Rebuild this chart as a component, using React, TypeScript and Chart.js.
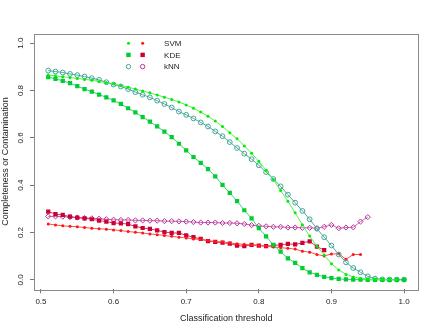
import { useEffect, useRef } from "react";
import { Chart, registerables } from "chart.js";

Chart.register(...registerables);

const thresholds = [
  0.51, 0.52, 0.53, 0.54, 0.55, 0.56, 0.57, 0.58, 0.59, 0.6,
  0.61, 0.62, 0.63, 0.64, 0.65, 0.66, 0.67, 0.68, 0.69, 0.7,
  0.71, 0.72, 0.73, 0.74, 0.75, 0.76, 0.77, 0.78, 0.79, 0.8,
  0.81, 0.82, 0.83, 0.84, 0.85, 0.86, 0.87, 0.88, 0.89, 0.9,
  0.91, 0.92, 0.93, 0.94, 0.95, 0.96, 0.97, 0.98, 0.99, 1.0,
];

const svmCompleteness = [
  0.865, 0.862, 0.858, 0.855, 0.851, 0.847, 0.843, 0.838, 0.833, 0.827,
  0.821, 0.814, 0.806, 0.798, 0.79, 0.781, 0.772, 0.762, 0.751, 0.739,
  0.725, 0.709, 0.691, 0.671, 0.648, 0.622, 0.596, 0.566, 0.535, 0.501,
  0.463, 0.424, 0.377, 0.332, 0.283, 0.233, 0.185, 0.142, 0.105, 0.068,
  0.042, 0.023, 0.012, 0.006, 0.003, 0.002, 0.001, 0.001, 0.0,
];

const kdeCompleteness = [
  0.857, 0.849, 0.841, 0.831, 0.818, 0.806, 0.795, 0.783, 0.771, 0.758,
  0.743, 0.725, 0.708, 0.688, 0.668, 0.648, 0.626, 0.603, 0.575, 0.547,
  0.519, 0.494, 0.468, 0.437, 0.401, 0.367, 0.333, 0.294, 0.26, 0.218,
  0.184, 0.148, 0.119, 0.091, 0.072, 0.049, 0.032, 0.021, 0.013, 0.007,
  0.004, 0.002, 0.001, 0.001, 0.0, 0.0, 0.0, 0.0, 0.0, 0.0,
];

const knnCompleteness = [
  0.884, 0.88, 0.876, 0.87, 0.865, 0.859, 0.852, 0.845, 0.835, 0.825,
  0.817, 0.806, 0.793, 0.782, 0.771, 0.757, 0.743, 0.728, 0.711, 0.697,
  0.682, 0.665, 0.648, 0.627, 0.607, 0.582, 0.557, 0.533, 0.51, 0.484,
  0.455, 0.426, 0.395, 0.36, 0.326, 0.291, 0.256, 0.216, 0.18, 0.145,
  0.107, 0.074, 0.05, 0.032, 0.015, 0.005, 0.002, 0.001, 0.001, 0.001,
];

const svmContamination = [
  0.236, 0.232, 0.228, 0.226, 0.224, 0.221, 0.218, 0.216, 0.214, 0.211,
  0.208, 0.204, 0.201, 0.198, 0.194, 0.191, 0.187, 0.184, 0.18, 0.177,
  0.173, 0.17, 0.166, 0.162, 0.16, 0.156, 0.152, 0.15, 0.148, 0.145,
  0.142, 0.139, 0.136, 0.133, 0.13, 0.121, 0.117, 0.107, 0.101, 0.109,
  0.11, 0.087, 0.107, 0.107,
];

const kdeContamination = [
  0.288, 0.278, 0.274, 0.267, 0.263, 0.26, 0.256, 0.25, 0.246, 0.24,
  0.239, 0.235, 0.226, 0.219, 0.215, 0.209, 0.202, 0.198, 0.198, 0.188,
  0.18, 0.173, 0.164, 0.16, 0.157, 0.153, 0.145, 0.142, 0.148, 0.145,
  0.142, 0.145, 0.148, 0.152, 0.15, 0.156, 0.163, 0.14, 0.126,
];

const knnContamination = [
  0.268, 0.268, 0.267, 0.265, 0.263, 0.261, 0.26, 0.258, 0.256, 0.254,
  0.253, 0.253, 0.251, 0.251, 0.25, 0.25, 0.248, 0.248, 0.247, 0.246,
  0.244, 0.242, 0.242, 0.242, 0.24, 0.24, 0.239, 0.236, 0.231, 0.228,
  0.226, 0.224, 0.224, 0.221, 0.221, 0.22, 0.22, 0.218, 0.224, 0.232,
  0.218, 0.221, 0.222, 0.246, 0.265,
];

const methodLabels = ["SVM", "KDE", "kNN"];
const xTickValues = [0.5, 0.6, 0.7, 0.8, 0.9, 1.0];
const yTickValues = [0.0, 0.2, 0.4, 0.6, 0.8, 1.0];
const xTitle = "Classification threshold";
const yTitle = "Completeness or Contamination";

const FONT_FAMILY = "'Liberation Sans', Arial, Helvetica, sans-serif";
const TEXT_COLOR = "#222";

const COLORS = {
  svmC: { point: "#00ee00", line: "#55f055" },
  kdeC: { point: "#00cc33", line: "#33d866" },
  knnC: { point: "#3fa898", line: "#55a89a" },
  svmX: { point: "#ff1515", line: "#ff5050" },
  kdeX: { point: "#cc0033", line: "#d8335f" },
  knnX: { point: "#bb3399", line: "#c866b4" },
};

function toPoints(values: number[]) {
  return values.map((v, i) => ({ x: thresholds[i], y: v }));
}

function drawSymbol(ctx: CanvasRenderingContext2D, kind: string, x: number, y: number, color: string) {
  ctx.save();
  if (kind === "dot") {
    ctx.fillStyle = color;
    ctx.beginPath();
    ctx.arc(x, y, 1.5, 0, Math.PI * 2);
    ctx.fill();
  } else if (kind === "square") {
    ctx.fillStyle = color;
    ctx.fillRect(x - 2.2, y - 2.2, 4.4, 4.4);
  } else {
    ctx.strokeStyle = color;
    ctx.lineWidth = 1;
    ctx.beginPath();
    ctx.arc(x, y, 2.2, 0, Math.PI * 2);
    ctx.stroke();
  }
  ctx.restore();
}

const rStylePlugin = {
  id: "rStyle",
  afterDraw(chart: any) {
    const { ctx, chartArea: a, scales } = chart;
    ctx.save();
    ctx.strokeStyle = "#8a8a8a";
    ctx.lineWidth = 1;
    ctx.strokeRect(Math.round(a.left) + 0.5, Math.round(a.top) + 0.5, Math.round(a.right - a.left), Math.round(a.bottom - a.top));

    const xs = scales.x;
    const ys = scales.y;
    const colA = xs.getPixelForValue(0.6205);
    const colB = xs.getPixelForValue(0.640);
    const textX = xs.getPixelForValue(0.6695);
    const kinds = ["dot", "square", "circle"];
    const leftColors = [COLORS.svmC.point, COLORS.kdeC.point, COLORS.knnC.point];
    const rightColors = [COLORS.svmX.point, COLORS.kdeX.point, COLORS.knnX.point];
    ctx.font = `8px ${FONT_FAMILY}`;
    ctx.textBaseline = "middle";
    ctx.textAlign = "left";
    methodLabels.forEach((label, i) => {
      const y = ys.getPixelForValue(1.0 - i * 0.0495);
      drawSymbol(ctx, kinds[i], colA, y, leftColors[i]);
      drawSymbol(ctx, kinds[i], colB, y, rightColors[i]);
      ctx.fillStyle = TEXT_COLOR;
      ctx.fillText(label, textX, y + 0.5);
    });
    ctx.restore();
  },
};

export default function App() {
  const canvasRef = useRef<HTMLCanvasElement | null>(null);

  useEffect(() => {
    if (!canvasRef.current) return;
    const tickFont = { family: FONT_FAMILY, size: 8 };
    const titleFont = { family: FONT_FAMILY, size: 9 };
    const chart = new Chart(canvasRef.current, {
      type: "line",
      data: {
        datasets: [
          {
            label: "SVM completeness",
            data: toPoints(svmCompleteness),
            borderColor: COLORS.svmC.line,
            borderWidth: 1,
            pointStyle: "circle",
            pointRadius: 1.5,
            pointBackgroundColor: COLORS.svmC.point,
            pointBorderColor: COLORS.svmC.point,
            pointBorderWidth: 0,
          },
          {
            label: "KDE completeness",
            data: toPoints(kdeCompleteness),
            borderColor: COLORS.kdeC.line,
            borderWidth: 1,
            pointStyle: "rect",
            pointRadius: 3.0,
            pointBackgroundColor: COLORS.kdeC.point,
            pointBorderColor: COLORS.kdeC.point,
            pointBorderWidth: 0,
          },
          {
            label: "kNN completeness",
            data: toPoints(knnCompleteness),
            borderColor: COLORS.knnC.line,
            borderWidth: 1,
            pointStyle: "circle",
            pointRadius: 2.4,
            pointBackgroundColor: "rgba(0,0,0,0)",
            pointBorderColor: COLORS.knnC.point,
            pointBorderWidth: 1,
          },
          {
            label: "SVM contamination",
            data: toPoints(svmContamination),
            borderColor: COLORS.svmX.line,
            borderWidth: 1,
            pointStyle: "circle",
            pointRadius: 1.5,
            pointBackgroundColor: COLORS.svmX.point,
            pointBorderColor: COLORS.svmX.point,
            pointBorderWidth: 0,
          },
          {
            label: "KDE contamination",
            data: toPoints(kdeContamination),
            borderColor: COLORS.kdeX.line,
            borderWidth: 1,
            pointStyle: "rect",
            pointRadius: 3.0,
            pointBackgroundColor: COLORS.kdeX.point,
            pointBorderColor: COLORS.kdeX.point,
            pointBorderWidth: 0,
          },
          {
            label: "kNN contamination",
            data: toPoints(knnContamination),
            borderColor: COLORS.knnX.line,
            borderWidth: 1,
            pointStyle: "rectRot",
            pointRadius: 2.6,
            pointBackgroundColor: "rgba(0,0,0,0)",
            pointBorderColor: COLORS.knnX.point,
            pointBorderWidth: 1,
          },
        ],
      },
      options: {
        responsive: false,
        animation: false,
        devicePixelRatio: 1,
        layout: { padding: { top: 33.7, right: 17.7, left: 0, bottom: 0 } },
        plugins: { legend: { display: false }, tooltip: { enabled: false } },
        elements: { line: { tension: 0 } },
        scales: {
          x: {
            type: "linear",
            min: 0.4904,
            max: 1.0196,
            afterBuildTicks: (s: any) => {
              s.ticks = xTickValues.map((v) => ({ value: v }));
            },
            afterFit: (s: any) => {
              s.height = 42.7;
            },
            grid: { drawOnChartArea: false, drawTicks: true, tickLength: 4, color: "#777" },
            border: { display: false },
            ticks: {
              font: tickFont,
              color: TEXT_COLOR,
              padding: 4,
              maxRotation: 0,
              autoSkip: false,
              callback: (v: any) => Number(v).toFixed(1),
            },
            title: {
              display: true,
              text: xTitle,
              font: titleFont,
              color: TEXT_COLOR,
              padding: { top: 0, bottom: 8.1 },
            },
          },
          y: {
            type: "linear",
            min: -0.04,
            max: 1.04,
            afterBuildTicks: (s: any) => {
              s.ticks = yTickValues.map((v) => ({ value: v }));
            },
            afterFit: (s: any) => {
              s.width = 34;
            },
            grid: { drawOnChartArea: false, drawTicks: true, tickLength: 4, color: "#777" },
            border: { display: false },
            ticks: {
              font: tickFont,
              color: TEXT_COLOR,
              padding: 3.5,
              minRotation: 90,
              maxRotation: 90,
              crossAlign: "center",
              autoSkip: false,
              callback: (v: any) => Number(v).toFixed(1),
            },
            title: {
              display: true,
              text: yTitle,
              font: titleFont,
              color: TEXT_COLOR,
              padding: { top: 0, bottom: 0 },
            },
          },
        },
      },
      plugins: [rStylePlugin],
    } as any);
    return () => chart.destroy();
  }, []);

  return (
    <div style={{ position: "absolute", left: 0, top: 0, width: 436, height: 332, background: "#fff" }}>
      <canvas ref={canvasRef} width={436} height={332} style={{ display: "block", width: 436, height: 332 }} />
    </div>
  );
}
